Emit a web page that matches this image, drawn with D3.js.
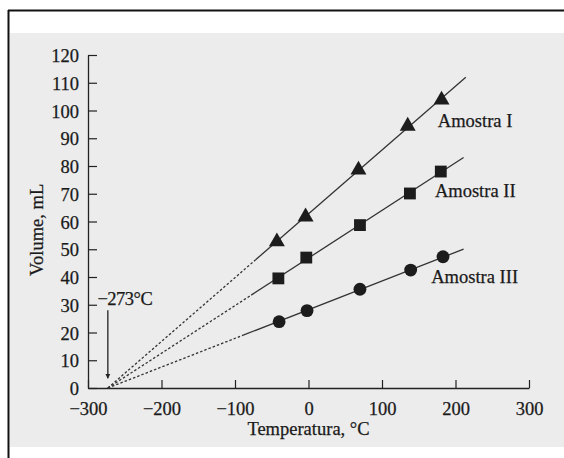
<!DOCTYPE html>
<html>
<head>
<meta charset="utf-8">
<script src="https://cdn.jsdelivr.net/npm/d3@7"></script>
<style>
  html, body { margin: 0; padding: 0; background: #fff; }
  svg { display: block; }
  text { font-family: "Liberation Serif", "DejaVu Serif", serif; fill: #1a1a1a; stroke: #1a1a1a; stroke-width: 0.25px; }
</style>
</head>
<body>
<div id="chart-area"></div>
<script>
// data
var sampleNames = ["Amostra I", "Amostra II", "Amostra III"];
var tempI = [-43, -4, 68, 135, 181];
var volI = [52.7, 61.7, 78.6, 94.4, 103.8];
var tempII = [-41, -3, 70, 138, 180];
var volII = [39.5, 47, 58.7, 70.1, 78];
var tempIII = [-40, -2, 70, 139, 183];
var volIII = [23.9, 27.9, 35.6, 42.5, 47.3];
var solidFrom = [-72, -78, -88];   // where dashed extrapolation turns solid
var lineTo = [214, 211, 211];      // end of drawn line
var absZero = -273;
var xTicks = [-300, -200, -100, 0, 100, 200, 300];
var yTicks = [0, 10, 20, 30, 40, 50, 60, 70, 80, 90, 100, 110, 120];

var W = 564, H = 458;
var FS = "18.5px";

var svg = d3.select("#chart-area")
  .append("svg")
  .attr("width", W)
  .attr("height", H);

// scanned page background + frame
svg.append("rect").attr("x", 0).attr("y", 0).attr("width", W).attr("height", H).attr("fill", "#fff");
svg.append("rect").attr("x", 10).attr("y", 33).attr("width", W - 10).attr("height", 414).attr("fill", "#ececec");
svg.append("line").attr("x1", 8).attr("x2", W).attr("y1", 10.5).attr("y2", 10.5).attr("stroke", "#111").attr("stroke-width", 2);
svg.append("line").attr("x1", 8.5).attr("x2", 8.5).attr("y1", 10).attr("y2", H).attr("stroke", "#111").attr("stroke-width", 2);

var x = d3.scaleLinear().domain([-300, 300]).range([88, 529]);
var y = d3.scaleLinear().domain([0, 120]).range([388, 55]);

var g = svg.append("g");

// axes (ticks point inward)
var xAxis = g.append("g")
  .attr("transform", "translate(0," + y(0) + ")")
  .call(d3.axisBottom(x).tickValues(xTicks).tickSizeInner(-8).tickSizeOuter(0).tickPadding(14)
    .tickFormat(function(d) { return d < 0 ? "\u2212" + Math.abs(d) : d; }));
var yAxis = g.append("g")
  .attr("transform", "translate(" + x(-300) + ",0)")
  .call(d3.axisLeft(y).tickValues(yTicks).tickSizeInner(-9).tickSizeOuter(0).tickPadding(9));

[xAxis, yAxis].forEach(function(a) {
  a.select(".domain").attr("stroke", "#222").attr("stroke-width", 1.3);
  a.selectAll(".tick line").attr("stroke", "#222").attr("stroke-width", 1.2);
  a.selectAll(".tick text").attr("font-size", FS).attr("fill", "#1a1a1a")
    .attr("font-family", "Liberation Serif, serif");
});
yAxis.selectAll(".tick text").attr("dy", "0.36em");

// axis titles
g.append("text")
  .attr("x", x(0))
  .attr("y", 435)
  .attr("text-anchor", "middle")
  .attr("font-size", FS)
  .text("Temperatura, \u00b0C");

g.append("text")
  .attr("transform", "translate(43," + y(57) + ") rotate(-90)")
  .attr("text-anchor", "middle")
  .attr("font-size", FS)
  .text("Volume, mL");

// series
var series = [
  { name: sampleNames[0], t: tempI, v: volI, shape: d3.symbolTriangle },
  { name: sampleNames[1], t: tempII, v: volII, shape: d3.symbolSquare },
  { name: sampleNames[2], t: tempIII, v: volIII, shape: d3.symbolCircle }
];

var line = d3.line().x(function(d) { return x(d[0]); }).y(function(d) { return y(d[1]); });

series.forEach(function(s, i) {
  // least squares slope for a line through absolute zero
  var num = 0, den = 0;
  s.t.forEach(function(t, j) { var dx = t - absZero; num += dx * s.v[j]; den += dx * dx; });
  var k = num / den;
  var f = function(t) { return [t, k * (t - absZero)]; };

  g.append("path")
    .attr("d", line([f(absZero), f(solidFrom[i])]))
    .attr("fill", "none").attr("stroke", "#333").attr("stroke-width", 1.3)
    .attr("stroke-dasharray", "2.5,2");
  g.append("path")
    .attr("d", line([f(solidFrom[i]), f(lineTo[i])]))
    .attr("fill", "none").attr("stroke", "#333").attr("stroke-width", 1.3);

  var size = i === 0 ? 110 : (i === 1 ? 140 : 130);
  g.selectAll(".pt" + i)
    .data(s.t.map(function(t, j) { return [t, s.v[j]]; }))
    .enter()
    .append("path")
    .attr("class", "pt" + i)
    .attr("transform", function(d) { return "translate(" + x(d[0]) + "," + y(d[1]) + ")"; })
    .attr("d", d3.symbol().type(s.shape).size(size))
    .attr("fill", "#1c1c1c");
});

// series labels
var labelT = [176, 172, 167];
var labelV = [94, 69, 38];
series.forEach(function(s, i) {
  g.append("text")
    .attr("x", x(labelT[i]))
    .attr("y", y(labelV[i]))
    .attr("font-size", FS)
    .text(s.name);
});

// absolute zero marker
g.append("text")
  .attr("x", x(absZero) + 17)
  .attr("y", y(32) + 6)
  .attr("text-anchor", "middle")
  .attr("font-size", FS)
  .attr("letter-spacing", "-0.5px")
  .text("\u2212273\u00b0C");

svg.append("defs").append("marker")
  .attr("id", "arr").attr("viewBox", "0 0 10 10").attr("refX", 9).attr("refY", 5)
  .attr("markerWidth", 5).attr("markerHeight", 6).attr("orient", "auto")
  .attr("markerUnits", "userSpaceOnUse")
  .append("path").attr("d", "M0,0L10,5L0,10Z").attr("fill", "#222");

g.append("line")
  .attr("x1", x(absZero)).attr("x2", x(absZero))
  .attr("y1", y(28)).attr("y2", y(3.5))
  .attr("stroke", "#222").attr("stroke-width", 1.3)
  .attr("marker-end", "url(#arr)");
</script>
</body>
</html>
